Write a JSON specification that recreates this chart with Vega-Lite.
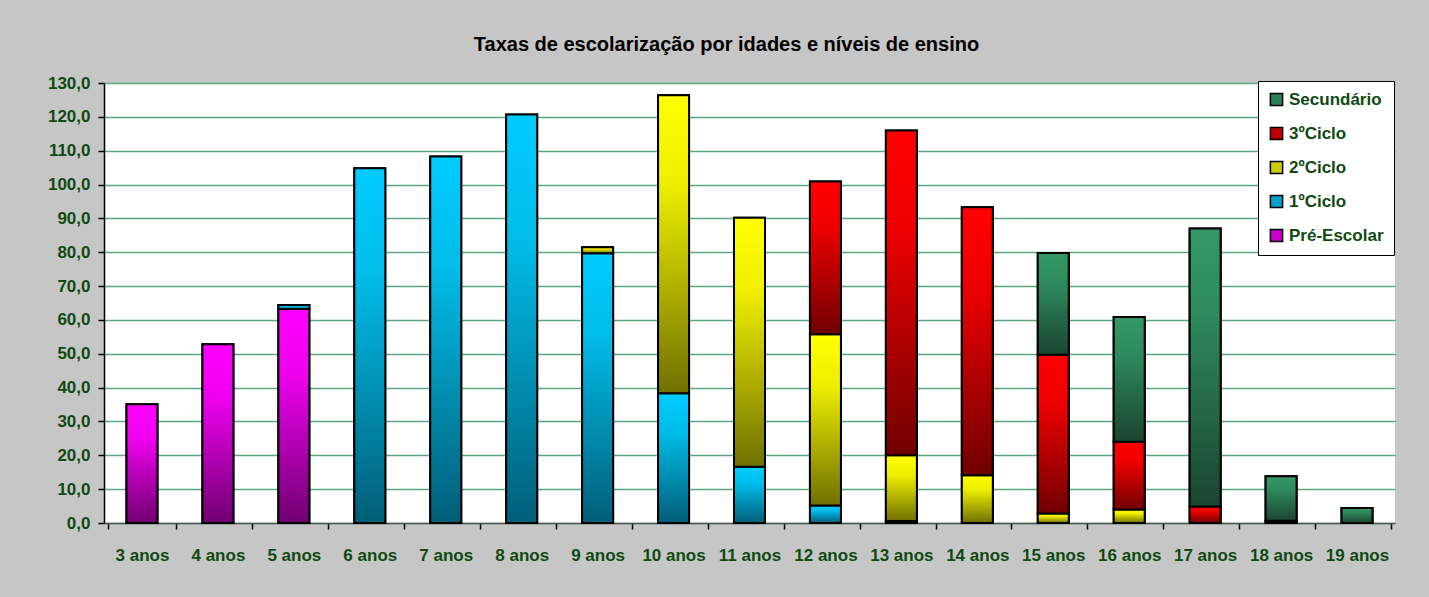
{
  "$schema": "https://vega.github.io/schema/vega-lite/v6.json",
  "width": 1291,
  "height": 440,
  "autosize": {"type": "none"},
  "padding": {"left": 104, "top": 83, "right": 34, "bottom": 74},
  "background": "#c6c6c6",
  "title": {
    "text": "Taxas de escolarização por idades e níveis de ensino",
    "font": "Liberation Sans",
    "fontSize": 20,
    "fontWeight": "bold",
    "color": "#000000",
    "anchor": "middle",
    "dx": -23,
    "offset": 19
  },
  "data": {
    "values": [
      {"idade": "3 anos", "nivel": "Pré-Escolar", "k": 1, "taxa": 35.1},
      {"idade": "4 anos", "nivel": "Pré-Escolar", "k": 1, "taxa": 52.8},
      {"idade": "5 anos", "nivel": "Pré-Escolar", "k": 1, "taxa": 63.2},
      {"idade": "5 anos", "nivel": "1ºCiclo", "k": 2, "taxa": 1.2},
      {"idade": "6 anos", "nivel": "1ºCiclo", "k": 2, "taxa": 104.8},
      {"idade": "7 anos", "nivel": "1ºCiclo", "k": 2, "taxa": 108.3},
      {"idade": "8 anos", "nivel": "1ºCiclo", "k": 2, "taxa": 120.7},
      {"idade": "9 anos", "nivel": "1ºCiclo", "k": 2, "taxa": 79.7},
      {"idade": "9 anos", "nivel": "2ºCiclo", "k": 3, "taxa": 1.8},
      {"idade": "10 anos", "nivel": "1ºCiclo", "k": 2, "taxa": 38.3},
      {"idade": "10 anos", "nivel": "2ºCiclo", "k": 3, "taxa": 88.1},
      {"idade": "11 anos", "nivel": "1ºCiclo", "k": 2, "taxa": 16.6},
      {"idade": "11 anos", "nivel": "2ºCiclo", "k": 3, "taxa": 73.6},
      {"idade": "12 anos", "nivel": "1ºCiclo", "k": 2, "taxa": 5.2},
      {"idade": "12 anos", "nivel": "2ºCiclo", "k": 3, "taxa": 50.6},
      {"idade": "12 anos", "nivel": "3ºCiclo", "k": 4, "taxa": 45.1},
      {"idade": "13 anos", "nivel": "1ºCiclo", "k": 2, "taxa": 0.6},
      {"idade": "13 anos", "nivel": "2ºCiclo", "k": 3, "taxa": 19.4},
      {"idade": "13 anos", "nivel": "3ºCiclo", "k": 4, "taxa": 96.0},
      {"idade": "14 anos", "nivel": "2ºCiclo", "k": 3, "taxa": 14.1},
      {"idade": "14 anos", "nivel": "3ºCiclo", "k": 4, "taxa": 79.2},
      {"idade": "15 anos", "nivel": "2ºCiclo", "k": 3, "taxa": 2.8},
      {"idade": "15 anos", "nivel": "3ºCiclo", "k": 4, "taxa": 46.9},
      {"idade": "15 anos", "nivel": "Secundário", "k": 5, "taxa": 30.1},
      {"idade": "16 anos", "nivel": "2ºCiclo", "k": 3, "taxa": 4.0},
      {"idade": "16 anos", "nivel": "3ºCiclo", "k": 4, "taxa": 20.0},
      {"idade": "16 anos", "nivel": "Secundário", "k": 5, "taxa": 36.9},
      {"idade": "17 anos", "nivel": "3ºCiclo", "k": 4, "taxa": 4.9},
      {"idade": "17 anos", "nivel": "Secundário", "k": 5, "taxa": 82.1},
      {"idade": "18 anos", "nivel": "3ºCiclo", "k": 4, "taxa": 0.7},
      {"idade": "18 anos", "nivel": "Secundário", "k": 5, "taxa": 13.1},
      {"idade": "19 anos", "nivel": "Secundário", "k": 5, "taxa": 4.4}
    ]
  },
  "transform": [
    {"stack": "taxa", "groupby": ["idade"], "sort": [{"field": "k", "order": "ascending"}], "as": ["base", "topo"]}
  ],
  "encoding": {
    "x": {
      "field": "idade",
      "type": "nominal",
      "sort": ["3 anos", "4 anos", "5 anos", "6 anos", "7 anos", "8 anos", "9 anos", "10 anos", "11 anos", "12 anos", "13 anos", "14 anos", "15 anos", "16 anos", "17 anos", "18 anos", "19 anos"],
      "axis": {
        "title": null,
        "labelAngle": 0,
        "labelFont": "Liberation Sans",
        "labelFontSize": 17,
        "labelFontWeight": "bold",
        "labelColor": "#0f4a12",
        "labelPadding": 18,
        "tickBand": "extent",
        "tickColor": "#000000",
        "tickSize": 6,
        "tickWidth": 1.5,
        "domainColor": "#555555",
        "domainWidth": 1.5,
        "grid": false
      }
    },
    "y": {
      "field": "topo",
      "type": "quantitative",
      "scale": {"domain": [0, 130], "nice": false},
      "axis": {
        "title": null,
        "values": [0, 10, 20, 30, 40, 50, 60, 70, 80, 90, 100, 110, 120, 130],
        "labelExpr": "replace(format(datum.value, '.1f'), '.', ',')",
        "labelFont": "Liberation Sans",
        "labelFontSize": 17,
        "labelFontWeight": "bold",
        "labelColor": "#0f4a12",
        "labelPadding": 8,
        "tickColor": "#000000",
        "tickSize": 6,
        "tickWidth": 1.5,
        "domainColor": "#000000",
        "domainWidth": 1.5,
        "grid": true,
        "gridColor": "#5aa882",
        "gridWidth": 1.5
      }
    },
    "y2": {"field": "base"}
  },
  "layer": [
    {
      "mark": {"type": "bar", "size": 31, "stroke": "#000000", "strokeWidth": 2},
      "encoding": {
        "color": {
          "field": "nivel",
          "type": "nominal",
          "scale": {
            "domain": ["Secundário", "3ºCiclo", "2ºCiclo", "1ºCiclo", "Pré-Escolar"],
            "range": ["#2b7f55", "#c00000", "#cccc00", "#00a0cc", "#cc00cc"]
          },
          "legend": {
            "title": null,
            "orient": "none",
            "legendX": 1154,
            "legendY": -2,
            "fillColor": "#ffffff",
            "strokeColor": "#000000",
            "padding": 10,
            "symbolType": "square",
            "symbolSize": 150,
            "symbolStrokeColor": "#000000",
            "symbolStrokeWidth": 1.5,
            "symbolOpacity": 1,
            "labelFont": "Liberation Sans",
            "labelFontSize": 17,
            "labelFontWeight": "bold",
            "labelColor": "#0f4a12",
            "labelOffset": 4,
            "rowPadding": 15
          }
        }
      }
    },
    {
      "transform": [{"filter": "datum.nivel === 'Pré-Escolar'"}],
      "mark": {"type": "bar", "size": 31, "stroke": "#000000", "strokeWidth": 2,
        "color": {"gradient": "linear", "x1": 0, "y1": 0, "x2": 0, "y2": 1, "stops": [{"offset": 0, "color": "#ff00ff"}, {"offset": 0.3, "color": "#ee00ee"}, {"offset": 1, "color": "#700070"}]}}
    },
    {
      "transform": [{"filter": "datum.nivel === '1ºCiclo'"}],
      "mark": {"type": "bar", "size": 31, "stroke": "#000000", "strokeWidth": 2,
        "color": {"gradient": "linear", "x1": 0, "y1": 0, "x2": 0, "y2": 1, "stops": [{"offset": 0, "color": "#00ccff"}, {"offset": 0.3, "color": "#00bde9"}, {"offset": 1, "color": "#005e78"}]}}
    },
    {
      "transform": [{"filter": "datum.nivel === '2ºCiclo'"}],
      "mark": {"type": "bar", "size": 31, "stroke": "#000000", "strokeWidth": 2,
        "color": {"gradient": "linear", "x1": 0, "y1": 0, "x2": 0, "y2": 1, "stops": [{"offset": 0, "color": "#ffff00"}, {"offset": 0.3, "color": "#eeee00"}, {"offset": 1, "color": "#707000"}]}}
    },
    {
      "transform": [{"filter": "datum.nivel === '3ºCiclo'"}],
      "mark": {"type": "bar", "size": 31, "stroke": "#000000", "strokeWidth": 2,
        "color": {"gradient": "linear", "x1": 0, "y1": 0, "x2": 0, "y2": 1, "stops": [{"offset": 0, "color": "#ff0000"}, {"offset": 0.3, "color": "#ee0000"}, {"offset": 1, "color": "#700000"}]}}
    },
    {
      "transform": [{"filter": "datum.nivel === 'Secundário'"}],
      "mark": {"type": "bar", "size": 31, "stroke": "#000000", "strokeWidth": 2,
        "color": {"gradient": "linear", "x1": 0, "y1": 0, "x2": 0, "y2": 1, "stops": [{"offset": 0, "color": "#339966"}, {"offset": 0.3, "color": "#2e8a5c"}, {"offset": 1, "color": "#1a4531"}]}}
    }
  ],
  "config": {
    "view": {"fill": "#ffffff", "stroke": null}
  }
}
